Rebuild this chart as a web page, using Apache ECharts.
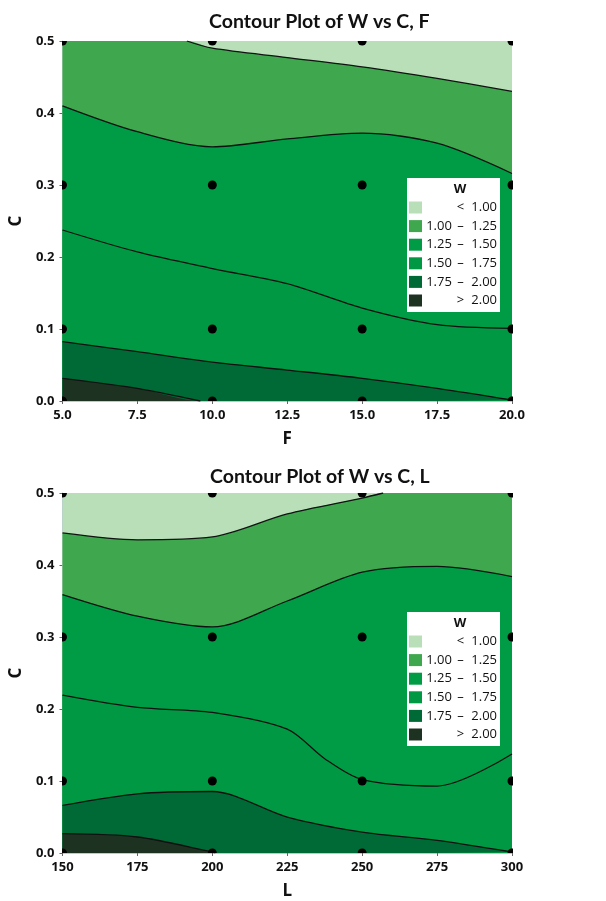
<!DOCTYPE html>
<html>
<head>
<meta charset="utf-8">
<script src="https://cdn.jsdelivr.net/npm/echarts@6/dist/echarts.min.js"></script>
<style>
  html, body { margin: 0; padding: 0; background: #fff; }
  #chart { width: 606px; height: 901px; }
</style>
</head>
<body>
<div id="chart"></div>
<script>
// design points
const fLevels = [5, 10, 15, 20];
const lLevels = [150, 200, 250, 300];
const cLevels = [0, 0.1, 0.3, 0.5];

// contour bands, lightest (top) to darkest (bottom)
const bandNames = ["< 1.00", "1.00 – 1.25", "1.25 – 1.50", "1.50 – 1.75", "1.75 – 2.00", "> 2.00"];
const bandLow = ["", "1.00", "1.25", "1.50", "1.75", ""];
const bandSep = ["<", "–", "–", "–", "–", ">"];
const bandHigh = ["1.00", "1.25", "1.50", "1.75", "2.00", "2.00"];
const bandColors = ["#b8dfb8", "#3fa84f", "#009b45", "#009843", "#006a36", "#1e3222"];

// contour lines of W vs C, F  ([F, C])
const cfW100 = [[5, 0.5], [9.15, 0.5], [10, 0.49], [12.5, 0.477], [15, 0.464], [17.5, 0.448], [20, 0.43]];
const cfW125 = [[5, 0.41], [7.5, 0.374], [10, 0.353], [12.5, 0.364], [15, 0.372], [17.5, 0.358], [20, 0.316]];
const cfW150 = [[5, 0.2375], [7.5, 0.207], [10, 0.184], [12.5, 0.163], [15, 0.129], [17.5, 0.106], [20, 0.101]];
const cfW175 = [[5, 0.0824], [7.5, 0.0685], [10, 0.054], [12.5, 0.043], [15, 0.0315], [17.5, 0.0176], [20, 0.0014]];
const cfW200 = [[5, 0.0315], [7.5, 0.0176], [9.6, 0], [20, 0]];

// contour lines of W vs C, L  ([L, C])
const clW100 = [[150, 0.4446], [175, 0.435], [200, 0.439], [225, 0.471], [250, 0.493], [257, 0.5], [300, 0.5]];
const clW125 = [[150, 0.359], [175, 0.329], [200, 0.314], [225, 0.35], [250, 0.39], [275, 0.398], [300, 0.384]];
const clW150 = [[150, 0.2193], [175, 0.2022], [200, 0.1953], [225, 0.172], [237.5, 0.131], [250, 0.102], [275, 0.093], [300, 0.1376]];
const clW175 = [[150, 0.066], [175, 0.0822], [200, 0.0854], [225, 0.0499], [250, 0.029], [275, 0.0176], [300, 0.0014]];
const clW200 = [[150, 0.0268], [175, 0.0222], [200, 0.0014], [201, 0], [300, 0]];

const FONT = "'Open Sans', sans-serif";

// drop the parts of a contour that lie flat on the plot edge
function visiblePart(pts) {
  const inside = (p) => p && p[1] > 0 && p[1] < 0.5;
  return pts.filter((p, i) => inside(p) || inside(pts[i - 1]) || inside(pts[i + 1]));
}

function bandSeries(idx, lines, xMin, xMax) {
  const out = [];
  const bounds = [[[xMin, 0.5], [xMax, 0.5]]].concat(lines);
  bounds.forEach((pts, i) => {
    out.push({
      name: bandNames[i],
      type: "line",
      xAxisIndex: idx,
      yAxisIndex: idx,
      data: pts,
      smooth: 0.3,
      symbol: "none",
      silent: true,
      z: 1,
      lineStyle: { width: 0, color: bandColors[i] },
      itemStyle: { color: bandColors[i] },
      areaStyle: { color: bandColors[i], opacity: 1, origin: "start" },
    });
  });
  lines.forEach((pts) => {
    out.push({
      type: "line",
      xAxisIndex: idx,
      yAxisIndex: idx,
      data: visiblePart(pts),
      smooth: 0.3,
      symbol: "none",
      silent: true,
      z: 3,
      lineStyle: { width: 1.3, color: "#111" },
    });
  });
  return out;
}

// design points, clipped at the plot edge like the original
function pointSeries(idx, xs) {
  const data = [];
  xs.forEach((x) => cLevels.forEach((c) => data.push([x, c])));
  return {
    type: "custom",
    xAxisIndex: idx,
    yAxisIndex: idx,
    data: data,
    clip: true,
    silent: true,
    z: 5,
    renderItem: (params, api) => {
      const p = api.coord([api.value(0), api.value(1)]);
      return { type: "circle", shape: { cx: p[0], cy: p[1], r: 4.5 }, style: { fill: "#000" } };
    },
  };
}

function xAxis(idx, min, max, interval, name, digits) {
  return {
    type: "value",
    gridIndex: idx,
    min: min,
    max: max,
    interval: interval,
    name: name,
    nameLocation: "middle",
    nameGap: 30,
    nameTextStyle: { fontFamily: FONT, fontWeight: "bold", fontSize: 17, color: "#111" },
    axisLine: { show: true, lineStyle: { color: "#b9c9d6", width: 1 } },
    axisTick: { show: true, length: 3, lineStyle: { color: "#666" } },
    axisLabel: {
      margin: 8,
      fontFamily: FONT,
      fontWeight: "bold",
      fontSize: 13,
      color: "#111",
      formatter: (v) => v.toFixed(digits),
    },
    splitLine: { show: false },
  };
}

function yAxis(idx) {
  return {
    type: "value",
    gridIndex: idx,
    min: 0,
    max: 0.5,
    interval: 0.1,
    name: "C",
    nameLocation: "middle",
    nameGap: 31,
    nameTextStyle: { fontFamily: FONT, fontWeight: "bold", fontSize: 17, color: "#111" },
    axisLine: { show: true, lineStyle: { color: "#b9c9d6", width: 1 } },
    axisTick: { show: true, length: 3, lineStyle: { color: "#666" } },
    axisLabel: {
      margin: 8,
      fontFamily: FONT,
      fontWeight: "bold",
      fontSize: 13,
      color: "#111",
      formatter: (v) => v.toFixed(1),
    },
    splitLine: { show: false },
  };
}

function legend(top) {
  return {
    orient: "vertical",
    left: 407,
    top: top,
    width: 88,
    padding: [23, 3, 5, 2],
    backgroundColor: "#fff",
    icon: "rect",
    itemWidth: 13,
    itemHeight: 12,
    itemGap: 5.6,
    selectedMode: false,
    data: bandNames,
    formatter: (name) => {
      const i = bandNames.indexOf(name);
      return "{a|" + bandLow[i] + "}{b|" + bandSep[i] + "}{c|" + bandHigh[i] + "}";
    },
    textStyle: {
      fontFamily: FONT,
      fontSize: 13,
      color: "#111",
      rich: {
        a: { width: 24, align: "right", fontFamily: FONT, fontSize: 13, color: "#111" },
        b: { width: 19, align: "center", fontFamily: FONT, fontSize: 13, color: "#111" },
        c: { width: 27, align: "right", fontFamily: FONT, fontSize: 13, color: "#111" },
      },
    },
  };
}

const chart = echarts.init(document.getElementById("chart"), null, { renderer: "canvas" });

const option = {
  animation: false,
  backgroundColor: "#fff",
  title: [
    {
      text: "Contour Plot of W vs C, F",
      left: 204,
      top: 7,
      textStyle: { fontFamily: "Lato, sans-serif", fontWeight: "bold", fontSize: 19.5, color: "#111" },
    },
    {
      text: "Contour Plot of W vs C, L",
      left: 205,
      top: 462,
      textStyle: { fontFamily: "Lato, sans-serif", fontWeight: "bold", fontSize: 19.5, color: "#111" },
    },
  ],
  grid: [
    { left: 57, right: 94, top: 41, bottom: 500 },
    { left: 59, right: 94, top: 493, bottom: 47 },
  ],
  xAxis: [
    xAxis(0, 5, 20, 2.5, "F", 1),
    xAxis(1, 150, 300, 25, "L", 0),
  ],
  yAxis: [yAxis(0), yAxis(1)],
  legend: [legend(178), legend(612)],
  graphic: [
    { type: "text", x: 460, y: 189, z: 100, style: { text: "W", textAlign: "center", textVerticalAlign: "middle", font: "bold 13px " + FONT, fill: "#111" } },
    { type: "text", x: 460, y: 623, z: 100, style: { text: "W", textAlign: "center", textVerticalAlign: "middle", font: "bold 13px " + FONT, fill: "#111" } },
  ],
  series: []
    .concat(bandSeries(0, [cfW100, cfW125, cfW150, cfW175, cfW200], 5, 20))
    .concat(bandSeries(1, [clW100, clW125, clW150, clW175, clW200], 150, 300))
    .concat([pointSeries(0, fLevels), pointSeries(1, lLevels)]),
};

chart.setOption(option);
</script>
</body>
</html>
